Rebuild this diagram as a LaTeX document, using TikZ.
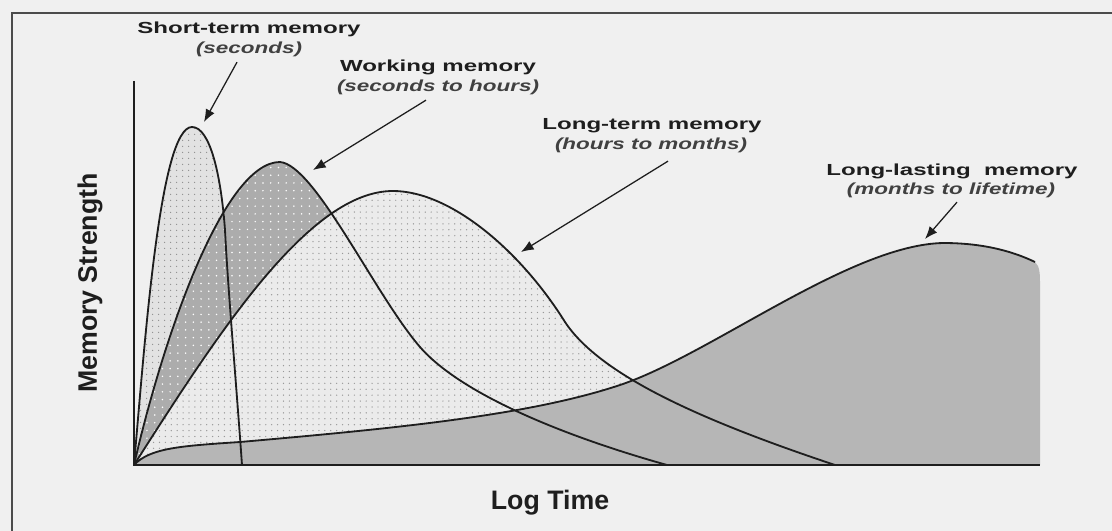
\documentclass[tikz,border=0pt]{standalone}
\usepackage{fontspec}
\setmainfont{Liberation Sans}
\newfontfamily\headfont[FakeStretch=1.5]{Liberation Sans}
\newfontfamily\subfont[FakeStretch=1.4]{Liberation Sans}
\usetikzlibrary{arrows.meta,patterns.meta,calc}

\definecolor{paper}{HTML}{F0F0F0}
\definecolor{ink}{HTML}{1E1E1E}
\definecolor{stgray}{HTML}{E2E2E2}
\definecolor{wmgray}{HTML}{ACACAC}
\definecolor{ltgray}{HTML}{EBEBEB}
\definecolor{llgray}{HTML}{B6B6B6}

% curves of the four memory kinds (pixel units, y downwards)
\newcommand\stcurve{(134,465) .. controls (145,340) and (160,127) .. (192,127)
  .. controls (210,127) and (221,175) .. (225,230)
  .. controls (228,290) and (236,380) .. (242,465)}
\newcommand\wmcurve{(134,465) .. controls (165,330) and (225,162) .. (280,162)
  .. controls (315,165) and (375,295) .. (420,347)
  .. controls (460,393) and (560,435) .. (667,465)}
\newcommand\ltcurve{(134,465) .. controls (220,330) and (310,191) .. (393,191)
  .. controls (450,191) and (520,250) .. (565,322)
  .. controls (600,375) and (700,420) .. (835,465)}
\newcommand\llcurve{(134,465) .. controls (150,448) and (180,446) .. (240,442)
  .. controls (400,428) and (530,415) .. (620,385)
  .. controls (710,355) and (850,245) .. (943,243)
  .. controls (980,243) and (1010,250) .. (1035,262)}

\begin{document}
\begin{tikzpicture}[x=0.025cm,y=-0.025cm,
    curve/.style={draw=ink,line width=1.3pt},
    axis/.style={draw=ink,line width=1.4pt},
    stfill/.style={preaction={fill=stgray},pattern={Dots[distance=4pt,radius=.5pt]},pattern color=gray!90},
    wmfill/.style={preaction={fill=wmgray},pattern={Dots[distance=5.5pt,radius=.6pt]},pattern color=white},
    ltfill/.style={preaction={fill=ltgray},pattern={Dots[distance=4.2pt,radius=.5pt]},pattern color=gray!80},
    llfill/.style={fill=llgray},
    head/.style={font=\headfont\bfseries\fontsize{11.4}{13}\selectfont,text=ink,inner sep=1pt},
    sub/.style={font=\subfont\bfseries\itshape\fontsize{11.4}{13}\selectfont,text=ink!85,inner sep=1pt},
    axlabel/.style={font=\bfseries\fontsize{19}{22}\selectfont,text=ink,inner sep=0pt},
    arr/.style={draw=ink,line width=.9pt,-{Latex[length=9pt,width=7pt]}}]

\useasboundingbox (0,0) rectangle (1112,531);
\fill[paper] (0,0) rectangle (1112,531);
\draw[ink!80,line width=1.2pt] (12,531) -- (12,13) -- (1112,13);

% fills, back to front
\fill[stfill] \stcurve -- cycle;
\fill[wmfill] \wmcurve -- cycle;
\fill[ltfill] \ltcurve -- cycle;
\fill[llfill] \llcurve .. controls (1040,266) and (1040,275) .. (1040,285) -- (1040,465) -- cycle;

% outlines
\foreach \c in {\stcurve,\wmcurve,\ltcurve,\llcurve} \draw[curve] \c;
\draw[axis] (134,81) -- (134,465) -- (1040,465);

\node[axlabel,rotate=90] (ylab) at (90,283) {Memory Strength};
\node[axlabel] (xlab) at (550,503) {Log Time};

\node[head] (sthead) at (249,29) {Short-term memory};
\node[sub] (stsub) at (249,49) {(seconds)};
\node[head] (wmhead) at (438,67) {Working memory};
\node[sub] (wmsub) at (438,87) {(seconds to hours)};
\node[head] (lthead) at (652,126) {Long-term memory};
\node[sub] (ltsub) at (651,145) {(hours to months)};
\node[head] (llhead) at (952,171) {Long-lasting\ \ memory};
\node[sub] (llsub) at (951,190) {(months to lifetime)};

\coordinate (sttip) at (204,122);
\coordinate (wmtip) at (313,170);
\coordinate (lttip) at (521,252);
\coordinate (lltip) at (925,239);

\draw[arr] ($(stsub.south)+(-12,4)$) -- (sttip);
\draw[arr] ($(wmsub.south)+(-12,4)$) -- (wmtip);
\draw[arr] ($(ltsub.south)+(17,7)$) -- (lttip);
\draw[arr] ($(llsub.south)+(6,3)$) -- (lltip);
\end{tikzpicture}
\end{document}
